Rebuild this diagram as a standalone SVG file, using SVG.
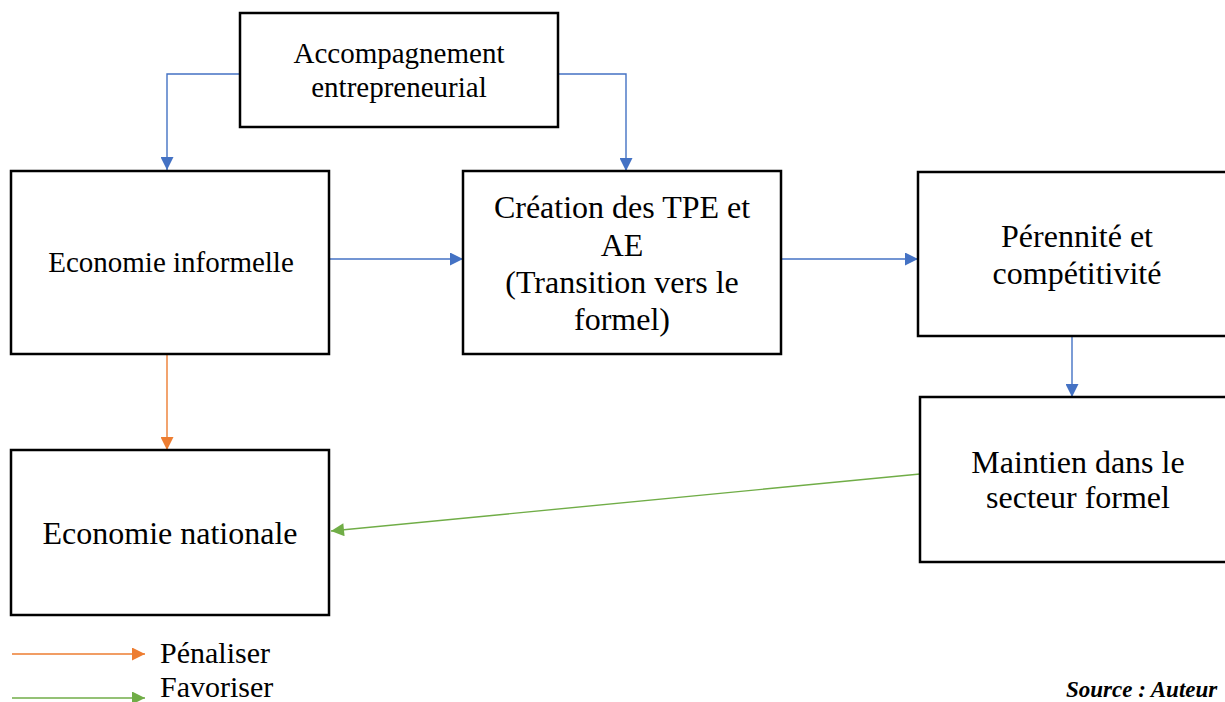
<svg xmlns="http://www.w3.org/2000/svg" width="1225" height="702" viewBox="0 0 1225 702">
<style>
.box{fill:#fff;stroke:#000;stroke-width:2.5}
text{font-family:"Liberation Serif","Times New Roman",serif;fill:#000;text-anchor:middle}
.b{fill:none;stroke:#4472C4;stroke-width:1.4;marker-end:url(#ab)}
.o{fill:none;stroke:#ED7D31;stroke-width:1.4;marker-end:url(#ao)}
.g{fill:none;stroke:#70AD47;stroke-width:1.4;marker-end:url(#ag)}
</style>
<defs>
<marker id="ab" viewBox="0 0 10 10" refX="10" refY="5" markerWidth="15" markerHeight="13" markerUnits="userSpaceOnUse" orient="auto"><path d="M0,0 L10,5 L0,10 z" fill="#4472C4"/></marker>
<marker id="ao" viewBox="0 0 10 10" refX="10" refY="5" markerWidth="15" markerHeight="13" markerUnits="userSpaceOnUse" orient="auto"><path d="M0,0 L10,5 L0,10 z" fill="#ED7D31"/></marker>
<marker id="ag" viewBox="0 0 10 10" refX="10" refY="5" markerWidth="15" markerHeight="13" markerUnits="userSpaceOnUse" orient="auto"><path d="M0,0 L10,5 L0,10 z" fill="#70AD47"/></marker>
</defs>
<rect width="1225" height="702" fill="#fff"/>
<g id="connectors">
<path class="b" d="M240,74 H167 V170"/>
<path class="b" d="M558,74 H626 V171"/>
<path class="b" d="M329,259 H463"/>
<path class="b" d="M781,259 H918"/>
<path class="b" d="M1072,336 V397"/>
<path class="o" d="M167,354 V450"/>
<path class="g" d="M920,474 L331,531"/>
</g>
<g id="n-accomp"><rect class="box" x="240" y="13" width="318" height="114"/>
<text font-size="29" x="399" y="63">Accompagnement</text>
<text font-size="29" x="399" y="97">entrepreneurial</text></g>
<g id="n-informelle"><rect class="box" x="11" y="171" width="318" height="183"/>
<text font-size="29" x="171" y="272">Economie informelle</text></g>
<g id="n-creation"><rect class="box" x="463" y="171" width="318" height="183"/>
<text font-size="32" x="622" y="218">Création des TPE et</text>
<text font-size="32" x="622" y="256">AE</text>
<text font-size="32" x="622" y="293">(Transition vers le</text>
<text font-size="32" x="622" y="330">formel)</text></g>
<g id="n-perennite"><rect class="box" x="918" y="172" width="330" height="164"/>
<text font-size="32" x="1077" y="247">Pérennité et</text>
<text font-size="32" x="1077" y="284">compétitivité</text></g>
<g id="n-maintien"><rect class="box" x="920" y="397" width="330" height="165"/>
<text font-size="32" x="1078" y="473">Maintien dans le</text>
<text font-size="32" x="1078" y="508">secteur formel</text></g>
<g id="n-nationale"><rect class="box" x="11" y="450" width="318" height="165"/>
<text font-size="32" x="170" y="544">Economie nationale</text></g>
<g id="legend">
<path class="o" d="M12,654 H145"/>
<path class="g" d="M12,698 H145"/>
<text font-size="30" x="160" y="663" style="text-anchor:start">Pénaliser</text>
<text font-size="30" x="160" y="697" style="text-anchor:start">Favoriser</text>
<text font-size="23" x="1066" y="697" font-weight="bold" font-style="italic" style="text-anchor:start">Source : Auteur</text>
</g>
</svg>
